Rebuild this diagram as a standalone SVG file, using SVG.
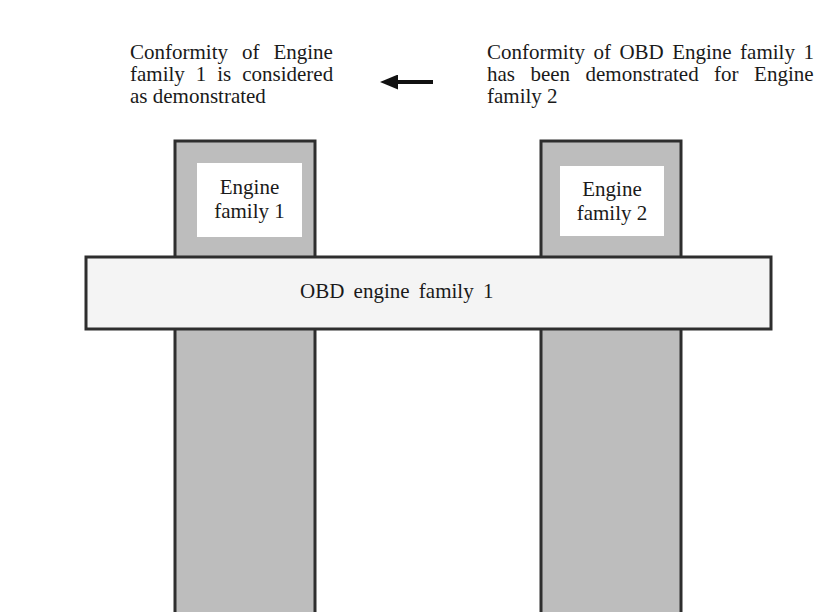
<svg xmlns="http://www.w3.org/2000/svg" width="817" height="612" viewBox="0 0 817 612">
<style>
text{font-family:"Liberation Serif","Times New Roman",serif;font-size:21px;fill:#1a1a1a}
.col{fill:#bdbdbd;stroke:#2e2e2e;stroke-width:3}
.inner{fill:#ffffff;stroke:none}
.bar{fill:#f4f4f4;stroke:#2e2e2e;stroke-width:3}
.mid{text-anchor:middle}
</style>
<defs>
<marker id="ah" markerWidth="18" markerHeight="15" refX="2" refY="7.5" orient="auto" markerUnits="userSpaceOnUse">
<path d="M0,0 L18,7.5 L0,15 Z" fill="#111"/>
</marker>
</defs>
<rect width="817" height="612" fill="#ffffff"/>
<g id="note-left">
<text x="130" y="59" word-spacing="8.7">Conformity of Engine</text>
<text x="130" y="81" word-spacing="5.7">family 1 is considered</text>
<text x="130" y="103">as demonstrated</text>
</g>
<g id="note-right">
<text x="487" y="59" word-spacing="3.2">Conformity of OBD Engine family 1</text>
<text x="487" y="81" word-spacing="10.2">has been demonstrated for Engine</text>
<text x="487" y="103">family 2</text>
</g>
<g id="connectors">
<line x1="433" y1="82" x2="396" y2="82" stroke="#111" stroke-width="4" marker-end="url(#ah)"/>
</g>
<g id="engine-family-1">
<rect class="col" x="175" y="141" width="140" height="480"/>
<rect class="inner" x="197" y="163" width="105" height="74"/>
<text class="mid" x="249.5" y="194">Engine</text>
<text class="mid" x="249.5" y="218">family 1</text>
</g>
<g id="engine-family-2">
<rect class="col" x="541" y="141" width="140" height="480"/>
<rect class="inner" x="560" y="166" width="104" height="70"/>
<text class="mid" x="612" y="196">Engine</text>
<text class="mid" x="612" y="220">family 2</text>
</g>
<g id="obd-engine-family-1">
<rect class="bar" x="86" y="257" width="685" height="72"/>
<text x="300" y="298" word-spacing="4">OBD engine family 1</text>
</g>
</svg>
